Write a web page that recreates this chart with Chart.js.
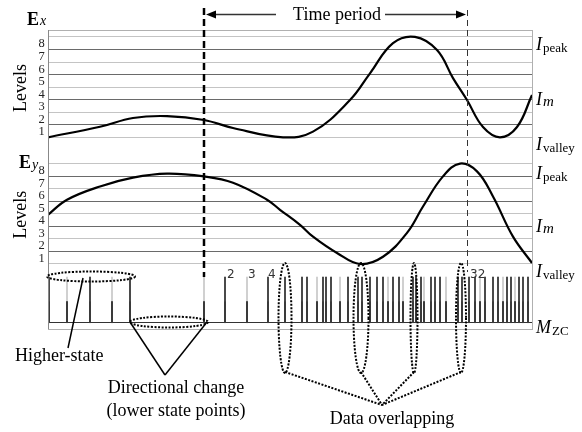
<!DOCTYPE html>
<html>
<head>
<meta charset="utf-8">
<script src="https://cdn.jsdelivr.net/npm/chart.js@4.4.1/dist/chart.umd.min.js"></script>
<style>
  html, body { margin: 0; padding: 0; background: #fff; }
</style>
</head>
<body>
<canvas id="grafico" width="582" height="432"></canvas>
<script>
// time in samples (0..484), signal levels in quantisation bands (0..8)
const exTime = [0, 52, 85, 119, 156, 185, 235, 265, 302, 322, 345, 367, 389, 405, 419, 435, 452, 469, 484];
const exLevel = [0, 0.84, 1.54, 1.69, 1.38, 0.74, 0, 0.45, 2.97, 5.1, 7.5, 8.0, 6.95, 4.72, 2.97, 0.82, 0, 0.82, 3.37];

const eyTime = [0, 19, 52, 85, 119, 156, 185, 219, 232, 252, 265, 289, 312, 335, 359, 375, 395, 412, 429, 445, 465, 484];
const eyLevel = [3.92, 5.12, 6.18, 6.88, 7.2, 6.98, 6.48, 5.12, 4.32, 3.12, 2.18, 0.88, 0, 0.58, 2.48, 4.58, 6.98, 8.0, 7.38, 5.38, 2.18, 0.08];

// zero-crossing marks (M_ZC)
const highTimes = [1, 42, 82, 177, 220, 237, 254, 259, 275, 278, 283, 300, 310, 314, 322, 329, 335, 345, 351, 365, 368, 373, 383, 387, 392, 410, 414, 421, 427, 437, 445, 450, 459, 463, 471, 475, 480];
const lowTimes = [19, 64, 156, 199, 269, 292, 340, 355, 376, 398, 432, 455, 467];

const levelLabels = ['1', '2', '3', '4', '5', '6', '7', '8'];
const zcLabels = ['2', '3', '4', '32'];
const zcLabelTimes = [178, 199, 219, 421];

const tEnd = 484;
const exBase = 15.275;
const eyBase = 5.18;
const yTop = 23.825;
const zcBase = 0.5;
const zcMid = 2.19;
const zcTop = 4.14;

function gridValues() {
    const vals = [zcBase];
    for (let k = 0; k <= 8; k++) {
        vals.push(eyBase + k);
        vals.push(exBase + k);
    }
    return vals;
}

function gridColor(v) {
    if (Math.abs(v - zcBase) < 0.01) return '#333';
    const k = Math.round(v > exBase - 0.5 ? v - exBase : v - eyBase);
    return k % 2 === 1 ? '#6a6a6a' : '#c4c4c4';
}

function serif(size, style) {
    return (style ? style + ' ' : '') + size + 'px "Liberation Serif", "Times New Roman", serif';
}

function drawSub(ctx, main, sub, x, y, mainFont, subFont, dy) {
    ctx.font = mainFont;
    ctx.textAlign = 'left';
    ctx.textBaseline = 'alphabetic';
    ctx.fillText(main, x, y);
    const w = ctx.measureText(main).width;
    ctx.font = subFont;
    ctx.fillText(sub, x + w + 1, y + dy);
}

function ellipse(ctx, cx, cy, rx, ry) {
    ctx.beginPath();
    ctx.ellipse(cx, cy, rx, ry, 0, 0, Math.PI * 2);
    ctx.stroke();
}

function line(ctx, x1, y1, x2, y2) {
    ctx.beginPath();
    ctx.moveTo(x1, y1);
    ctx.lineTo(x2, y2);
    ctx.stroke();
}

const decor = {
    id: 'decor',
    afterDraw(chart) {
        const ctx = chart.ctx;
        const xs = chart.scales.x;
        const ys = chart.scales.y;
        const area = chart.chartArea;
        const px = t => xs.getPixelForValue(t);
        const py = v => ys.getPixelForValue(v);

        ctx.save();
        // frame
        ctx.strokeStyle = '#b0b0b0';
        ctx.lineWidth = 1;
        ctx.strokeRect(Math.round(area.left) + 0.5, Math.round(area.top) + 0.5,
            Math.round(area.right - area.left), Math.round(area.bottom - area.top));
        ctx.strokeStyle = '#888';
        line(ctx, Math.round(area.left) + 0.5, area.top, Math.round(area.left) + 0.5, area.bottom);

        // level labels
        ctx.fillStyle = '#222';
        ctx.font = serif(12.5);
        ctx.textAlign = 'center';
        ctx.textBaseline = 'middle';
        levelLabels.forEach((lab, i) => {
            ctx.fillText(lab, 41.5, py(exBase + i + 0.5) + 1);
            ctx.fillText(lab, 41.5, py(eyBase + i + 0.5) + 1);
        });

        // Levels titles
        ctx.fillStyle = '#000';
        ctx.font = serif(18);
        [exBase + 4, eyBase + 4].forEach(v => {
            ctx.save();
            ctx.translate(21, py(v) + 1);
            ctx.rotate(-Math.PI / 2);
            ctx.textAlign = 'center';
            ctx.textBaseline = 'middle';
            ctx.fillText('Levels', 0, 0);
            ctx.restore();
        });

        drawSub(ctx, 'E', 'x', 27, 25, serif(18, 'bold'), serif(14, 'italic'), 0);
        drawSub(ctx, 'E', 'y', 19, 168, serif(18, 'bold'), serif(14, 'italic'), 1);

        // right side labels
        const rx = area.right + 4;
        const iFont = serif(18, 'italic');
        const sFont = serif(13);
        drawSub(ctx, 'I', 'peak', rx, 50, iFont, sFont, 2);
        drawSub(ctx, 'I', 'm', rx, 105, iFont, serif(15, 'italic'), 1);
        drawSub(ctx, 'I', 'valley', rx, 150, iFont, sFont, 2);
        drawSub(ctx, 'I', 'peak', rx, 179, iFont, sFont, 2);
        drawSub(ctx, 'I', 'm', rx, 232, iFont, serif(15, 'italic'), 1);
        drawSub(ctx, 'I', 'valley', rx, 277, iFont, sFont, 2);
        drawSub(ctx, 'M', 'ZC', rx, 333, iFont, sFont, 2);

        // zero-crossing counters
        ctx.fillStyle = '#333';
        ctx.font = '12px "DejaVu Sans", sans-serif';
        ctx.textAlign = 'left';
        ctx.textBaseline = 'alphabetic';
        zcLabels.forEach((lab, i) => ctx.fillText(lab, px(zcLabelTimes[i]) + 1, 278));

        // time period markers
        const tA = 156, tB = 419;
        ctx.strokeStyle = '#000';
        ctx.lineWidth = 2.5;
        ctx.setLineDash([7, 4]);
        line(ctx, px(tA), 8, px(tA), py(zcTop));
        ctx.lineWidth = 1;
        ctx.strokeStyle = '#333';
        ctx.setLineDash([6, 4]);
        line(ctx, Math.round(px(tB)) + 0.5, 10, Math.round(px(tB)) + 0.5, 272);
        ctx.setLineDash([]);

        ctx.strokeStyle = '#333';
        ctx.fillStyle = '#000';
        ctx.lineWidth = 1.5;
        line(ctx, px(tA) + 10, 14.5, 276, 14.5);
        ctx.beginPath();
        ctx.moveTo(px(tA) + 2, 14.5);
        ctx.lineTo(px(tA) + 12, 10.5);
        ctx.lineTo(px(tA) + 12, 18.5);
        ctx.closePath();
        ctx.fill();
        line(ctx, 385, 14.5, px(tB) - 10, 14.5);
        ctx.beginPath();
        ctx.moveTo(px(tB) - 1, 14.5);
        ctx.lineTo(px(tB) - 11, 10.5);
        ctx.lineTo(px(tB) - 11, 18.5);
        ctx.closePath();
        ctx.fill();

        ctx.font = serif(18);
        ctx.textAlign = 'center';
        ctx.textBaseline = 'alphabetic';
        ctx.fillText('Time period', 337, 20);

        // dotted ellipses
        ctx.strokeStyle = '#000';
        ctx.lineWidth = 2;
        ctx.setLineDash([2, 1.5]);
        ellipse(ctx, px(43), 276.5, 44, 5);
        ellipse(ctx, px(121), 322, 39, 5.5);
        ellipse(ctx, px(237), 318, 6.5, 55);
        ellipse(ctx, px(313), 318, 7.5, 55);
        ellipse(ctx, px(366), 318, 3.5, 55);
        ellipse(ctx, px(413), 318, 5, 55);
        const meet = [382, 405];
        [237, 313, 366, 413].forEach(t => line(ctx, px(t), 372, meet[0], meet[1]));
        ctx.setLineDash([]);

        // solid pointers
        ctx.lineWidth = 1.5;
        line(ctx, 83, 278, 68, 348);
        line(ctx, 130, 322, 165, 375);
        line(ctx, 207, 322, 165, 375);

        ctx.fillStyle = '#000';
        ctx.font = serif(18);
        ctx.textAlign = 'left';
        ctx.fillText('Higher-state', 15, 361);
        ctx.textAlign = 'center';
        ctx.fillText('Directional change', 176, 393);
        ctx.fillText('(lower state points)', 176, 416);
        ctx.fillText('Data overlapping', 392, 424);
        ctx.restore();
    }
};

function pairs(times, values, base) {
    return times.map((t, i) => ({ x: t, y: base + values[i] }));
}

function bars(times, lo, hi) {
    return times.map(t => ({ x: t, y: [lo, hi] }));
}

const allTimes = highTimes.concat(lowTimes);

new Chart(document.getElementById('grafico'), {
    type: 'line',
    data: {
        datasets: [
            {
                label: 'Ex',
                data: pairs(exTime, exLevel, exBase),
                borderColor: '#000',
                borderWidth: 2.2,
                pointRadius: 0,
                tension: 0.4,
                order: 0
            },
            {
                label: 'Ey',
                data: pairs(eyTime, eyLevel, eyBase),
                borderColor: '#000',
                borderWidth: 2.2,
                pointRadius: 0,
                tension: 0.4,
                order: 0
            },
            {
                type: 'bar',
                label: 'low part',
                data: bars(allTimes, zcBase, zcMid),
                backgroundColor: '#3a3a3a',
                barThickness: 1.4,
                grouped: false,
                order: 2
            },
            {
                type: 'bar',
                label: 'higher state',
                data: bars(highTimes, zcMid, zcTop),
                backgroundColor: '#4a4a4a',
                barThickness: 1.4,
                grouped: false,
                order: 2
            },
            {
                type: 'bar',
                label: 'lower state',
                data: bars(lowTimes, zcMid, zcTop),
                backgroundColor: '#d0d0d0',
                barThickness: 1.4,
                grouped: false,
                order: 2
            }
        ]
    },
    options: {
        responsive: false,
        animation: false,
        devicePixelRatio: 1,
        layout: { padding: { left: 48, right: 50, top: 30, bottom: 103 } },
        plugins: { legend: { display: false }, tooltip: { enabled: false } },
        scales: {
            x: {
                type: 'linear',
                min: 0,
                max: tEnd,
                offset: false,
                display: false
            },
            y: {
                type: 'linear',
                min: 0,
                max: yTop,
                afterBuildTicks: scale => {
                    scale.ticks = gridValues().map(v => ({ value: v }));
                },
                ticks: { display: false },
                border: { display: false },
                grid: {
                    drawTicks: false,
                    color: c => gridColor(c.tick.value),
                    lineWidth: 1
                }
            }
        }
    },
    plugins: [decor]
});
</script>
</body>
</html>
